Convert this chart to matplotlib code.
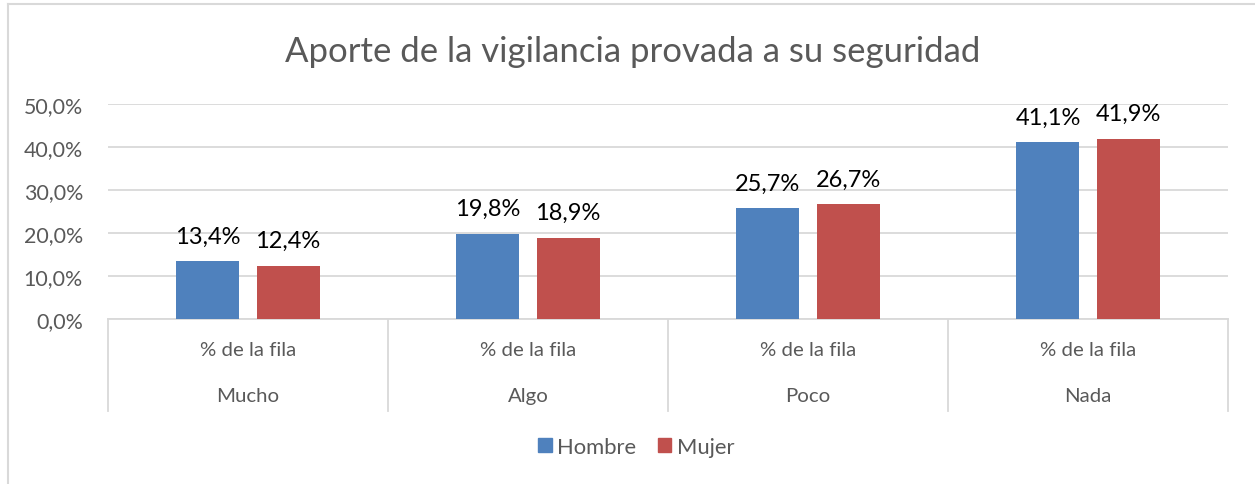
import matplotlib
matplotlib.use("Agg")
import matplotlib.pyplot as plt
import numpy as np
from matplotlib.patches import Patch

categories = ["Mucho", "Algo", "Poco", "Nada"]
sub_label = "% de la fila"
hombre = [13.4, 19.8, 25.7, 41.1]
mujer = [12.4, 18.9, 26.7, 41.9]
series_names = ["Hombre", "Mujer"]
yticks = [0, 10, 20, 30, 40, 50]

blue = "#4F81BD"
red = "#C0504D"
gray_text = "#595959"
grid_c = "#D9D9D9"

plt.rcParams['font.family'] = ['Lato', 'DejaVu Sans']

fig = plt.figure(figsize=(12.55, 4.85), dpi=100)
W, H = 1255, 485
ax = fig.add_axes([108 / W, 1 - 320 / H, 1120 / W, 215 / H])

x = np.arange(len(categories))
off = 0.143
bw = 0.225
b1 = ax.bar(x - off, hombre, bw, color=blue, label=series_names[0], zorder=3)
b2 = ax.bar(x + off, mujer, bw, color=red, label=series_names[1], zorder=3)

fmt = lambda v: f"{v:.1f}%".replace(".", ",")
for bars, vals in ((b1, hombre), (b2, mujer)):
    ax.bar_label(bars, labels=[fmt(v) for v in vals], padding=10.5, fontsize=17, color="black")

ax.set_xlim(-0.5, len(categories) - 0.5)
ax.set_ylim(0, 50)
ax.set_yticks(yticks)
ax.set_yticklabels([f"{t:.1f}%".replace(".", ",") for t in yticks], fontsize=15.4, color=gray_text)
ax.tick_params(axis='y', length=0, pad=18)
ax.tick_params(axis='x', length=0, labelbottom=False)
ax.yaxis.grid(True, color=grid_c, linewidth=1.3, zorder=0)
for s in ["top", "right", "left"]:
    ax.spines[s].set_visible(False)
ax.spines["bottom"].set_color(grid_c)
ax.spines["bottom"].set_linewidth(1.3)

trans = ax.get_xaxis_transform()
for b in np.arange(len(categories) + 1) - 0.5:
    ax.plot([b, b], [0, -0.428], transform=trans, color=grid_c, lw=1.3, clip_on=False)
for i, c in enumerate(categories):
    ax.text(i, -0.14, sub_label, transform=trans, ha='center', va='center', fontsize=14.7, color=gray_text)
    ax.text(i, -0.358, c, transform=trans, ha='center', va='center', fontsize=14.7, color=gray_text)

fig.text(0.504, 1 - 52 / H, "Aporte de la vigilancia provada a su seguridad",
         ha='center', va='center', fontsize=25, color=gray_text)

handles = [Patch(color=blue, label=series_names[0]), Patch(color=red, label=series_names[1])]
fig.legend(handles=handles, loc='center', bbox_to_anchor=(0.507, 1 - 448 / H), ncol=2, frameon=False,
           fontsize=15.8, handlelength=0.6, handleheight=0.6, handletextpad=0.25, columnspacing=1.0,
           labelcolor=gray_text)

# figure border (left and top)
fig.add_artist(plt.Line2D([8 / W, 8 / W], [0, 1 - 5 / H], color=grid_c, lw=1.5))
fig.add_artist(plt.Line2D([8 / W, 1], [1 - 5 / H, 1 - 5 / H], color=grid_c, lw=1.5))

fig.savefig("out.png", dpi=100)
